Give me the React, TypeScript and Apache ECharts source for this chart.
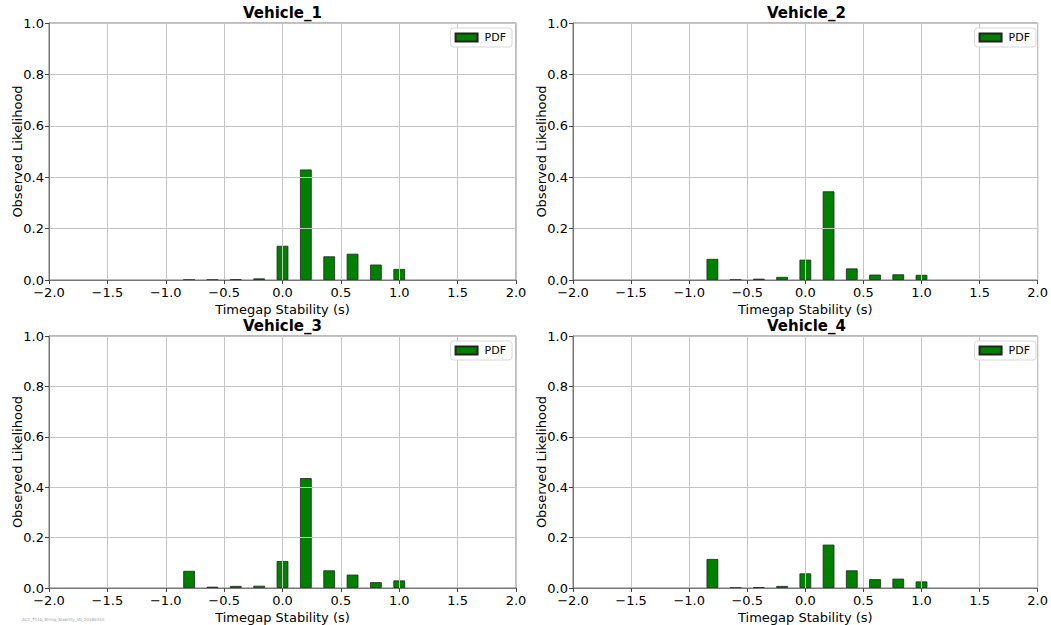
import React, { useEffect, useRef } from "react";
import * as echarts from "echarts";

const binCenters = [-0.8, -0.6, -0.4, -0.2, 0.0, 0.2, 0.4, 0.6, 0.8, 1.0];
const vehicle1 = [0.001, 0.001, 0.002, 0.006, 0.133, 0.43, 0.092, 0.102, 0.06, 0.043];
const vehicle2 = [0.082, 0.001, 0.005, 0.012, 0.079, 0.345, 0.045, 0.021, 0.022, 0.02];
const vehicle3 = [0.068, 0.005, 0.008, 0.009, 0.107, 0.436, 0.07, 0.053, 0.023, 0.03];
const vehicle4 = [0.115, 0.001, 0.003, 0.008, 0.058, 0.172, 0.07, 0.035, 0.037, 0.026];
const titles = ["Vehicle_1", "Vehicle_2", "Vehicle_3", "Vehicle_4"];
const seriesName = "PDF";
const xLabel = "Timegap Stability (s)";
const yLabel = "Observed Likelihood";
const footnote = "ACC_T11b_String_Stability_V0_20180310";

const FONT = "DejaVu Sans";

export default function App() {
  const ref = useRef<HTMLDivElement>(null);
  useEffect(() => {
    document.body.style.margin = "0";
    const chart = echarts.init(ref.current!, null, { renderer: "svg" });
    const allData = [vehicle1, vehicle2, vehicle3, vehicle4];
    const grids = [
      { left: 49, top: 23, width: 467, height: 257 },
      { left: 573, top: 23, width: 467, height: 257 },
      { left: 49, top: 336, width: 467, height: 257 },
      { left: 573, top: 336, width: 467, height: 257 },
    ];
    const fmt = (v: number) => (v < 0 ? "\u2212" : "") + Math.abs(v).toFixed(1);
    const option: any = {
      animation: false,
      backgroundColor: "#fff",
      textStyle: { fontFamily: FONT },
      grid: grids.map((g) => ({
        ...g,
        show: true,
        borderColor: "#777",
        borderWidth: 1,
        backgroundColor: "transparent",
      })),
      xAxis: grids.map((_, i) => ({
        type: "value",
        gridIndex: i,
        min: -2,
        max: 2,
        interval: 0.5,
        z: 3,
        name: xLabel,
        nameLocation: "middle",
        nameGap: 23,
        nameMoveOverlap: false,
        nameTextStyle: { fontSize: 13, color: "#000", fontFamily: FONT },
        axisLine: { show: true, onZero: false, lineStyle: { color: "#777", width: 1 } },
        axisTick: { show: true, inside: false, length: 4, lineStyle: { color: "#444" } },
        axisLabel: { formatter: fmt, fontSize: 13, color: "#000", margin: 6, fontFamily: FONT },
        splitLine: { show: true, lineStyle: { color: "#c4c4c4", width: 1 } },
      })),
      yAxis: grids.map((_, i) => ({
        type: "value",
        gridIndex: i,
        min: 0,
        max: 1,
        interval: 0.2,
        z: 3,
        name: yLabel,
        nameLocation: "middle",
        nameGap: 25,
        nameMoveOverlap: false,
        nameRotate: 90,
        nameTextStyle: { fontSize: 13, color: "#000", fontFamily: FONT },
        axisLine: { show: true, onZero: false, lineStyle: { color: "#777", width: 1 } },
        axisTick: { show: true, inside: false, length: 4, lineStyle: { color: "#444" } },
        axisLabel: { formatter: (v: number) => v.toFixed(1), fontSize: 13, color: "#000", margin: 5, fontFamily: FONT },
        splitLine: { show: true, lineStyle: { color: "#c4c4c4", width: 1 } },
      })),
      legend: grids.map((g) => ({
        data: [seriesName],
        right: 1051 - (g.left + g.width) + 4,
        top: g.top + 5,
        orient: "vertical",
        icon: "rect",
        itemWidth: 22,
        itemHeight: 8,
        itemGap: 4,
        padding: [4, 6, 4, 4],
        borderColor: "#d8d8d8",
        borderWidth: 1,
        borderRadius: 3,
        backgroundColor: "#fff",
        selectedMode: false,
        textStyle: { fontSize: 11, color: "#000", fontFamily: FONT, padding: [0, 0, 0, 2] },
      })),
      series: allData.map((vals, i) => ({
        type: "bar",
        name: seriesName,
        xAxisIndex: i,
        yAxisIndex: i,
        barWidth: 11.7,
        z: 2,
        itemStyle: { color: "#008000", borderColor: "#222", borderWidth: 0.8 },
        data: binCenters.map((x, j) => [x, vals[j]]),
      })),
      graphic: [
        ...grids.map((g, i) => ({
          type: "text",
          x: g.left + g.width / 2,
          y: g.top - 10,
          style: {
            text: titles[i],
            fontSize: 15,
            fontWeight: "bold",
            fontFamily: FONT,
            fill: "#000",
            textAlign: "center",
            textVerticalAlign: "middle",
          },
        })),
        {
          type: "text",
          x: 22,
          y: 619,
          style: {
            text: footnote,
            fontSize: 4,
            fontFamily: FONT,
            fill: "#999",
            textAlign: "left",
            textVerticalAlign: "middle",
          },
        },
      ],
    };
    chart.setOption(option);
    return () => chart.dispose();
  }, []);
  return <div ref={ref} style={{ width: 1051, height: 625 }} />;
}
